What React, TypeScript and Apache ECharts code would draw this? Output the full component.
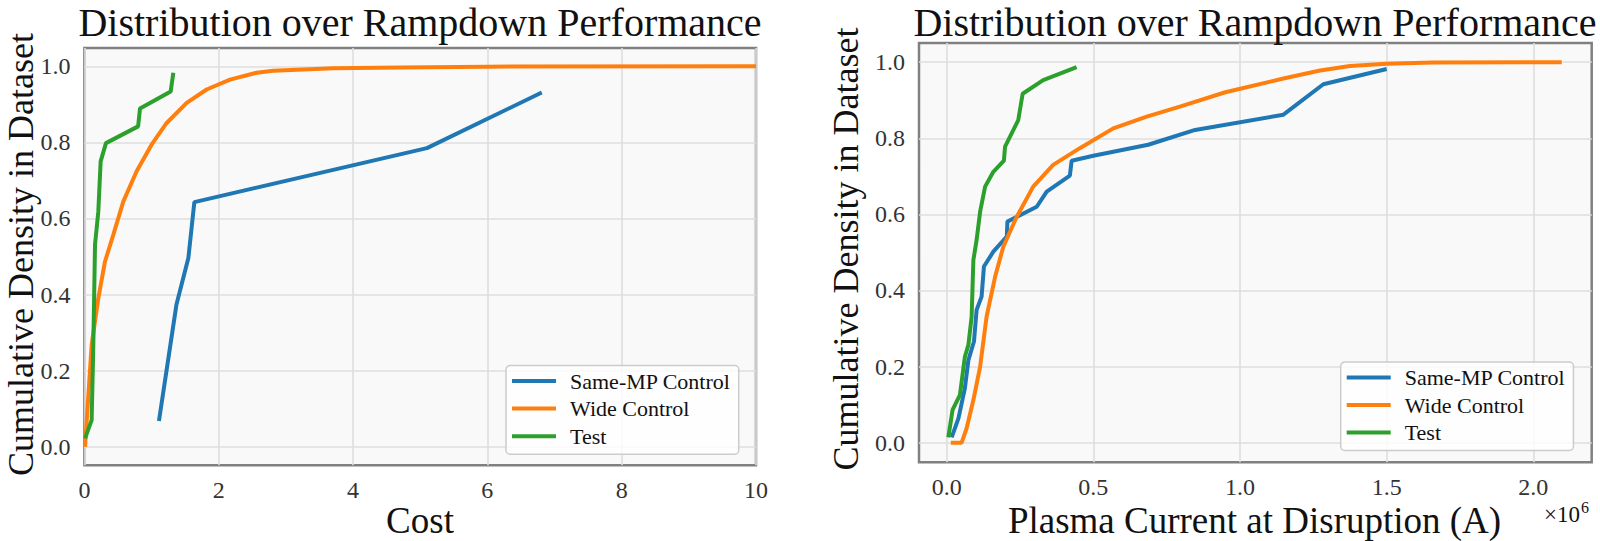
import React, { useEffect, useRef } from "react";
import * as echarts from "echarts";

// ---- Data ----
const seriesNames = ["Same-MP Control", "Wide Control", "Test"];
const seriesColors = ["#1f77b4", "#ff7f0e", "#2ca02c"];

// Left panel: Cost vs cumulative density
const costSameMP: number[][] = [
  [1.11, 0.068], [1.37, 0.373], [1.548, 0.496], [1.637, 0.643], [5.1, 0.785], [6.81, 0.931],
];
const costWide: number[][] = [
  [0.01, 0.0], [0.059, 0.136], [0.108, 0.268], [0.207, 0.39], [0.307, 0.487], [0.43, 0.557],
  [0.58, 0.645], [0.778, 0.724], [1.0, 0.794], [1.225, 0.851], [1.523, 0.904], [1.82, 0.939],
  [2.168, 0.965], [2.565, 0.983], [2.81, 0.988], [3.71, 0.995], [4.7, 0.997], [6.0, 0.999], [10, 1.0],
];
const costTest: number[][] = [
  [0.01, 0.022], [0.108, 0.07], [0.133, 0.268], [0.158, 0.531], [0.207, 0.618], [0.242, 0.75],
  [0.321, 0.798], [0.8, 0.842], [0.828, 0.889], [1.285, 0.934], [1.324, 0.983],
];

// Right panel: plasma current at disruption (A) vs cumulative density
const currentSameMP: number[][] = [
  [0.017e6, 0.014], [0.04e6, 0.064], [0.062e6, 0.143], [0.074e6, 0.217], [0.093e6, 0.266],
  [0.102e6, 0.349], [0.119e6, 0.384], [0.127e6, 0.463], [0.159e6, 0.502], [0.205e6, 0.542],
  [0.207e6, 0.581], [0.307e6, 0.62], [0.341e6, 0.66], [0.42e6, 0.702], [0.426e6, 0.741],
  [0.5e6, 0.754], [0.687e6, 0.783], [0.847e6, 0.822], [1.148e6, 0.862], [1.284e6, 0.942],
  [1.5e6, 0.982],
];
const currentWide: number[][] = [
  [0.014e6, 0.0], [0.051e6, 0.0], [0.068e6, 0.038], [0.091e6, 0.112], [0.114e6, 0.2],
  [0.136e6, 0.331], [0.165e6, 0.436], [0.193e6, 0.515], [0.239e6, 0.594], [0.295e6, 0.673],
  [0.363e6, 0.73], [0.454e6, 0.774], [0.568e6, 0.826], [0.682e6, 0.857], [0.795e6, 0.883],
  [0.95e6, 0.921], [1.148e6, 0.957], [1.273e6, 0.978], [1.375e6, 0.99], [1.5e6, 0.996],
  [1.659e6, 0.999], [2.097e6, 1.0],
];
const currentTest: number[][] = [
  [0.0055e6, 0.014], [0.02e6, 0.086], [0.045e6, 0.125], [0.062e6, 0.226], [0.074e6, 0.257],
  [0.085e6, 0.331], [0.091e6, 0.48], [0.102e6, 0.533], [0.114e6, 0.607], [0.131e6, 0.673],
  [0.159e6, 0.712], [0.195e6, 0.741], [0.199e6, 0.778], [0.244e6, 0.848], [0.259e6, 0.917],
  [0.329e6, 0.953], [0.443e6, 0.987],
];

const yTicks = [0, 0.2, 0.4, 0.6, 0.8, 1.0];
const costTicks = [0, 2, 4, 6, 8, 10];
const currentTicks = [0, 0.5e6, 1.0e6, 1.5e6, 2.0e6];

const titleText = "Distribution over Rampdown Performance";
const yName = "Cumulative Density in Dataset";
const leftXName = "Cost";
const rightXName = "Plasma Current at Disruption (A)";
const offsetBase = "×10";
const offsetExp = "6";

const FONT = "'Liberation Serif', 'Times New Roman', serif";
const TICK_COLOR = "#333333";
const TEXT_COLOR = "#111111";

// legend swatch: a 44px line, plus an invisible hairline that reserves the gap before the label
const LEGEND_ICON = "path://M0,0H44V4H0Z M53,0H53.01V4H53Z";

function makeXAxis(gridIndex: number, min: number, max: number, ticks: number[], fmt: (v: number) => string) {
  return {
    type: "value",
    gridIndex,
    min,
    max,
    axisLine: { show: false },
    axisTick: { show: false, customValues: ticks },
    axisLabel: {
      customValues: ticks,
      formatter: fmt,
      margin: 13,
      fontSize: 24,
      fontFamily: FONT,
      color: TICK_COLOR,
    },
    splitLine: { show: true, lineStyle: { color: "#dedede", width: 1.6 } },
  };
}

function makeYAxis(gridIndex: number, min: number, max: number) {
  return {
    type: "value",
    gridIndex,
    min,
    max,
    axisLine: { show: false },
    axisTick: { show: false, customValues: yTicks },
    axisLabel: {
      customValues: yTicks,
      formatter: (v: number) => v.toFixed(1),
      margin: 14,
      fontSize: 24,
      fontFamily: FONT,
      color: TICK_COLOR,
    },
    splitLine: { show: true, lineStyle: { color: "#dedede", width: 1.6 } },
  };
}

function makeLegend(left: number, top: number, gap: number) {
  return {
    orient: "vertical",
    left,
    top,
    icon: LEGEND_ICON,
    itemWidth: 53,
    itemHeight: 4,
    itemGap: gap,
    itemStyle: { borderWidth: 0 },
    padding: [4.5, 8, 7, 6],
    backgroundColor: "rgba(255,255,255,0.8)",
    borderColor: "#cccccc",
    borderWidth: 1.5,
    borderRadius: 4,
    textStyle: {
      fontSize: 22,
      fontFamily: FONT,
      color: TEXT_COLOR,
      lineHeight: 22,
    },
    data: seriesNames,
  };
}

function makeLine(name: string, color: string, data: number[][], idx: number) {
  return {
    type: "line",
    name,
    data,
    xAxisIndex: idx,
    yAxisIndex: idx,
    symbol: "none",
    color,
    itemStyle: { color },
    lineStyle: { width: 4, color },
    clip: true,
  };
}

export default function App() {
  const ref = useRef<HTMLDivElement>(null);

  useEffect(() => {
    if (!ref.current) return;
    const chart = echarts.init(ref.current, undefined, { renderer: "svg" });

    const textStyleBase = { fontFamily: FONT, fill: TEXT_COLOR, align: "center", verticalAlign: "middle" };

    const option: any = {
      animation: false,
      backgroundColor: "#ffffff",
      grid: [
        {
          left: 84.4, top: 48, width: 671.6, height: 417.3,
          show: true, backgroundColor: "#f9f9f9", borderColor: "#808080", borderWidth: 2.5,
        },
        {
          left: 919, top: 43, width: 672.7, height: 419.3,
          show: true, backgroundColor: "#f9f9f9", borderColor: "#808080", borderWidth: 2.5,
        },
      ],
      xAxis: [
        makeXAxis(0, 0, 10, costTicks, (v: number) => String(v)),
        makeXAxis(1, -0.0944e6, 2.199e6, currentTicks, (v: number) => (v / 1e6).toFixed(1)),
      ],
      yAxis: [makeYAxis(0, -0.0486, 1.048), makeYAxis(1, -0.0515, 1.0504)],
      legend: [makeLegend(506, 365.5, 5.6), makeLegend(1340.7, 362, 5.5)],
      series: [
        makeLine(seriesNames[0], seriesColors[0], costSameMP, 0),
        makeLine(seriesNames[1], seriesColors[1], costWide, 0),
        makeLine(seriesNames[2], seriesColors[2], costTest, 0),
        makeLine(seriesNames[0], seriesColors[0], currentSameMP, 1),
        makeLine(seriesNames[1], seriesColors[1], currentWide, 1),
        makeLine(seriesNames[2], seriesColors[2], currentTest, 1),
      ],
      graphic: [
        { type: "text", x: 420, y: 22, style: { ...textStyleBase, text: titleText, fontSize: 40 } },
        { type: "text", x: 1255, y: 22, style: { ...textStyleBase, text: titleText, fontSize: 40 } },
        { type: "text", x: 420, y: 520.5, style: { ...textStyleBase, text: leftXName, fontSize: 37 } },
        { type: "text", x: 1254.5, y: 520.5, style: { ...textStyleBase, text: rightXName, fontSize: 37 } },
        { type: "text", x: 20.5, y: 254.5, rotation: Math.PI / 2, style: { ...textStyleBase, text: yName, fontSize: 36 } },
        { type: "text", x: 846.3, y: 249, rotation: Math.PI / 2, style: { ...textStyleBase, text: yName, fontSize: 36 } },
        {
          type: "text", x: 1580, y: 514,
          style: { text: offsetBase, fontFamily: FONT, fontSize: 23, fill: TEXT_COLOR, align: "right", verticalAlign: "middle" },
        },
        {
          type: "text", x: 1581, y: 507,
          style: { text: offsetExp, fontFamily: FONT, fontSize: 16, fill: TEXT_COLOR, align: "left", verticalAlign: "middle" },
        },
      ],
    };

    chart.setOption(option);
    return () => chart.dispose();
  }, []);

  return (
    <div
      ref={ref}
      style={{ position: "fixed", left: 0, top: 0, width: 1600, height: 541, background: "#ffffff" }}
    />
  );
}
